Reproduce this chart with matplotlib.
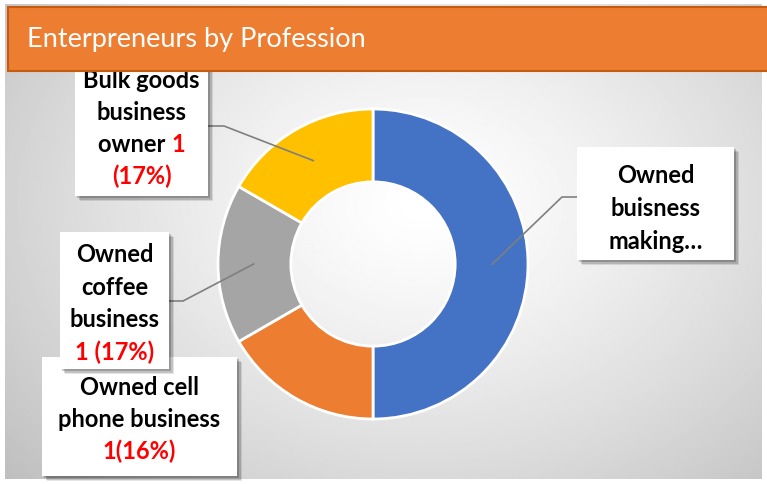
import numpy as np
import matplotlib.pyplot as plt
from matplotlib.patches import Rectangle

# data
categories = ["Owned buisness making...", "Owned cell phone business",
              "Owned coffee business", "Bulk goods business owner"]
counts = [3, 1, 1, 1]
pct_text = ["50%", "16%", "17%", "17%"]
colors = ["#4472C4", "#ED7D31", "#A5A5A5", "#FFC000"]
title = "Enterpreneurs by Profession"

W, H = 767, 485
fig = plt.figure(figsize=(W / 100, H / 100), dpi=100, facecolor="white")

# --- grey radial background ---
bg = fig.add_axes([5 / W, 5 / H, 757 / W, 475 / H])
yy, xx = np.mgrid[0:1:300j, 0:1:480j]
d = np.sqrt(((xx - 0.55) * 1.2) ** 2 + ((yy - 0.58) * 1.0) ** 2)
shade = np.clip(1.0 - 0.30 * d ** 1.3, 0, 1)
bg.imshow(shade, cmap="gray", vmin=0, vmax=1, aspect="auto", origin="lower",
          extent=[0, 1, 0, 1])
bg.axis("off")

# --- donut ---
cx, cy, R = 373, 265, 155
pa = fig.add_axes([(cx - R) / W, (H - cy - R) / H, 2 * R / W, 2 * R / H])
wedges, _ = pa.pie(counts, colors=colors, startangle=90, counterclock=False,
                   wedgeprops=dict(width=0.47, edgecolor="white", linewidth=2))
pa.set_xlim(-1, 1)
pa.set_ylim(-1, 1)
pa.axis("off")

# overlay in pixel coordinates
ov = fig.add_axes([0, 0, 1, 1], zorder=5)
ov.set_xlim(0, W)
ov.set_ylim(H, 0)
ov.axis("off")
ov.patch.set_alpha(0)

renderer = fig.canvas.get_renderer()
FS = 17
RED = "#FF0000"


def text_width(s):
    t = ov.text(0, 0, s, fontsize=FS, fontweight="bold", family="Lato")
    w = t.get_window_extent(renderer).width
    t.remove()
    return w


def draw_line(xc, y, parts, z):
    if len(parts) == 1:
        s, c = parts[0]
        ov.text(xc, y, s, color=c, fontsize=FS, fontweight="bold", family="Lato",
                ha="center", va="center", zorder=z)
        return
    full = "".join(p[0] for p in parts)
    w = text_width(full)
    x0 = xc - w / 2
    ov.text(x0, y, parts[0][0], color=parts[0][1], fontsize=FS, fontweight="bold",
            family="Lato", ha="left", va="center", zorder=z)
    ov.text(x0 + w, y, parts[1][0], color=parts[1][1], fontsize=FS, fontweight="bold",
            family="Lato", ha="right", va="center", zorder=z)


def label_box(x0, y0, x1, y1, lines, ys, z=6):
    for k, a in [(5, 0.10), (3.5, 0.15), (2, 0.2)]:
        ov.add_patch(Rectangle((x0 + k, y0 + k), x1 - x0, y1 - y0,
                               facecolor="black", alpha=a, edgecolor="none", zorder=z))
    ov.add_patch(Rectangle((x0, y0), x1 - x0, y1 - y0, facecolor="white",
                           edgecolor="none", zorder=z + 0.5))
    xc = (x0 + x1) / 2
    for parts, y in zip(lines, ys):
        draw_line(xc, y, parts, z + 1)


def anchor(i, r=0.77):
    w = wedges[i]
    a = np.deg2rad((w.theta1 + w.theta2) / 2)
    return cx + r * R * np.cos(a), cy - r * R * np.sin(a)


# leader lines
lc = "#7F7F7F"
ax_, ay_ = anchor(0)
ov.plot([ax_, 562, 582], [ay_, 198, 198], color=lc, lw=1.2, zorder=5)
ax_, ay_ = anchor(3)
ov.plot([ax_, 224, 208], [ay_, 127, 127], color=lc, lw=1.2, zorder=5)
ax_, ay_ = anchor(2)
ov.plot([ax_, 183, 168], [ay_, 302, 302], color=lc, lw=1.2, zorder=5)

# label boxes
label_box(577, 148, 734, 261,
          [[("Owned", "black")], [("buisness", "black")], [("making…", "black")]],
          [176, 209, 242])
label_box(42, 358, 237, 477,
          [[("Owned cell", "black")], [("phone business", "black")],
           [("1(" + pct_text[1] + ")", RED)]],
          [388, 420, 451], z=6)
label_box(60, 233, 169, 370,
          [[("Owned", "black")], [("coffee", "black")], [("business", "black")],
           [("1 (" + pct_text[2] + ")", RED)]],
          [255, 288, 320, 352], z=9)
label_box(75, 60, 208, 197,
          [[("Bulk goods", "black")], [("business", "black")],
           [("owner ", "black"), ("1", RED)], [("(" + pct_text[3] + ")", RED)]],
          [80, 112, 145, 176])

# header bar
ov.add_patch(Rectangle((8, 8), W, 64, facecolor="#ED7D31", edgecolor="#C55A11",
                       lw=1.5, zorder=20))
ov.text(27, 39, title, color="white", fontsize=19.5, family="Lato",
        ha="left", va="center", zorder=21)

fig.savefig("out.png", dpi=100, facecolor="white")
